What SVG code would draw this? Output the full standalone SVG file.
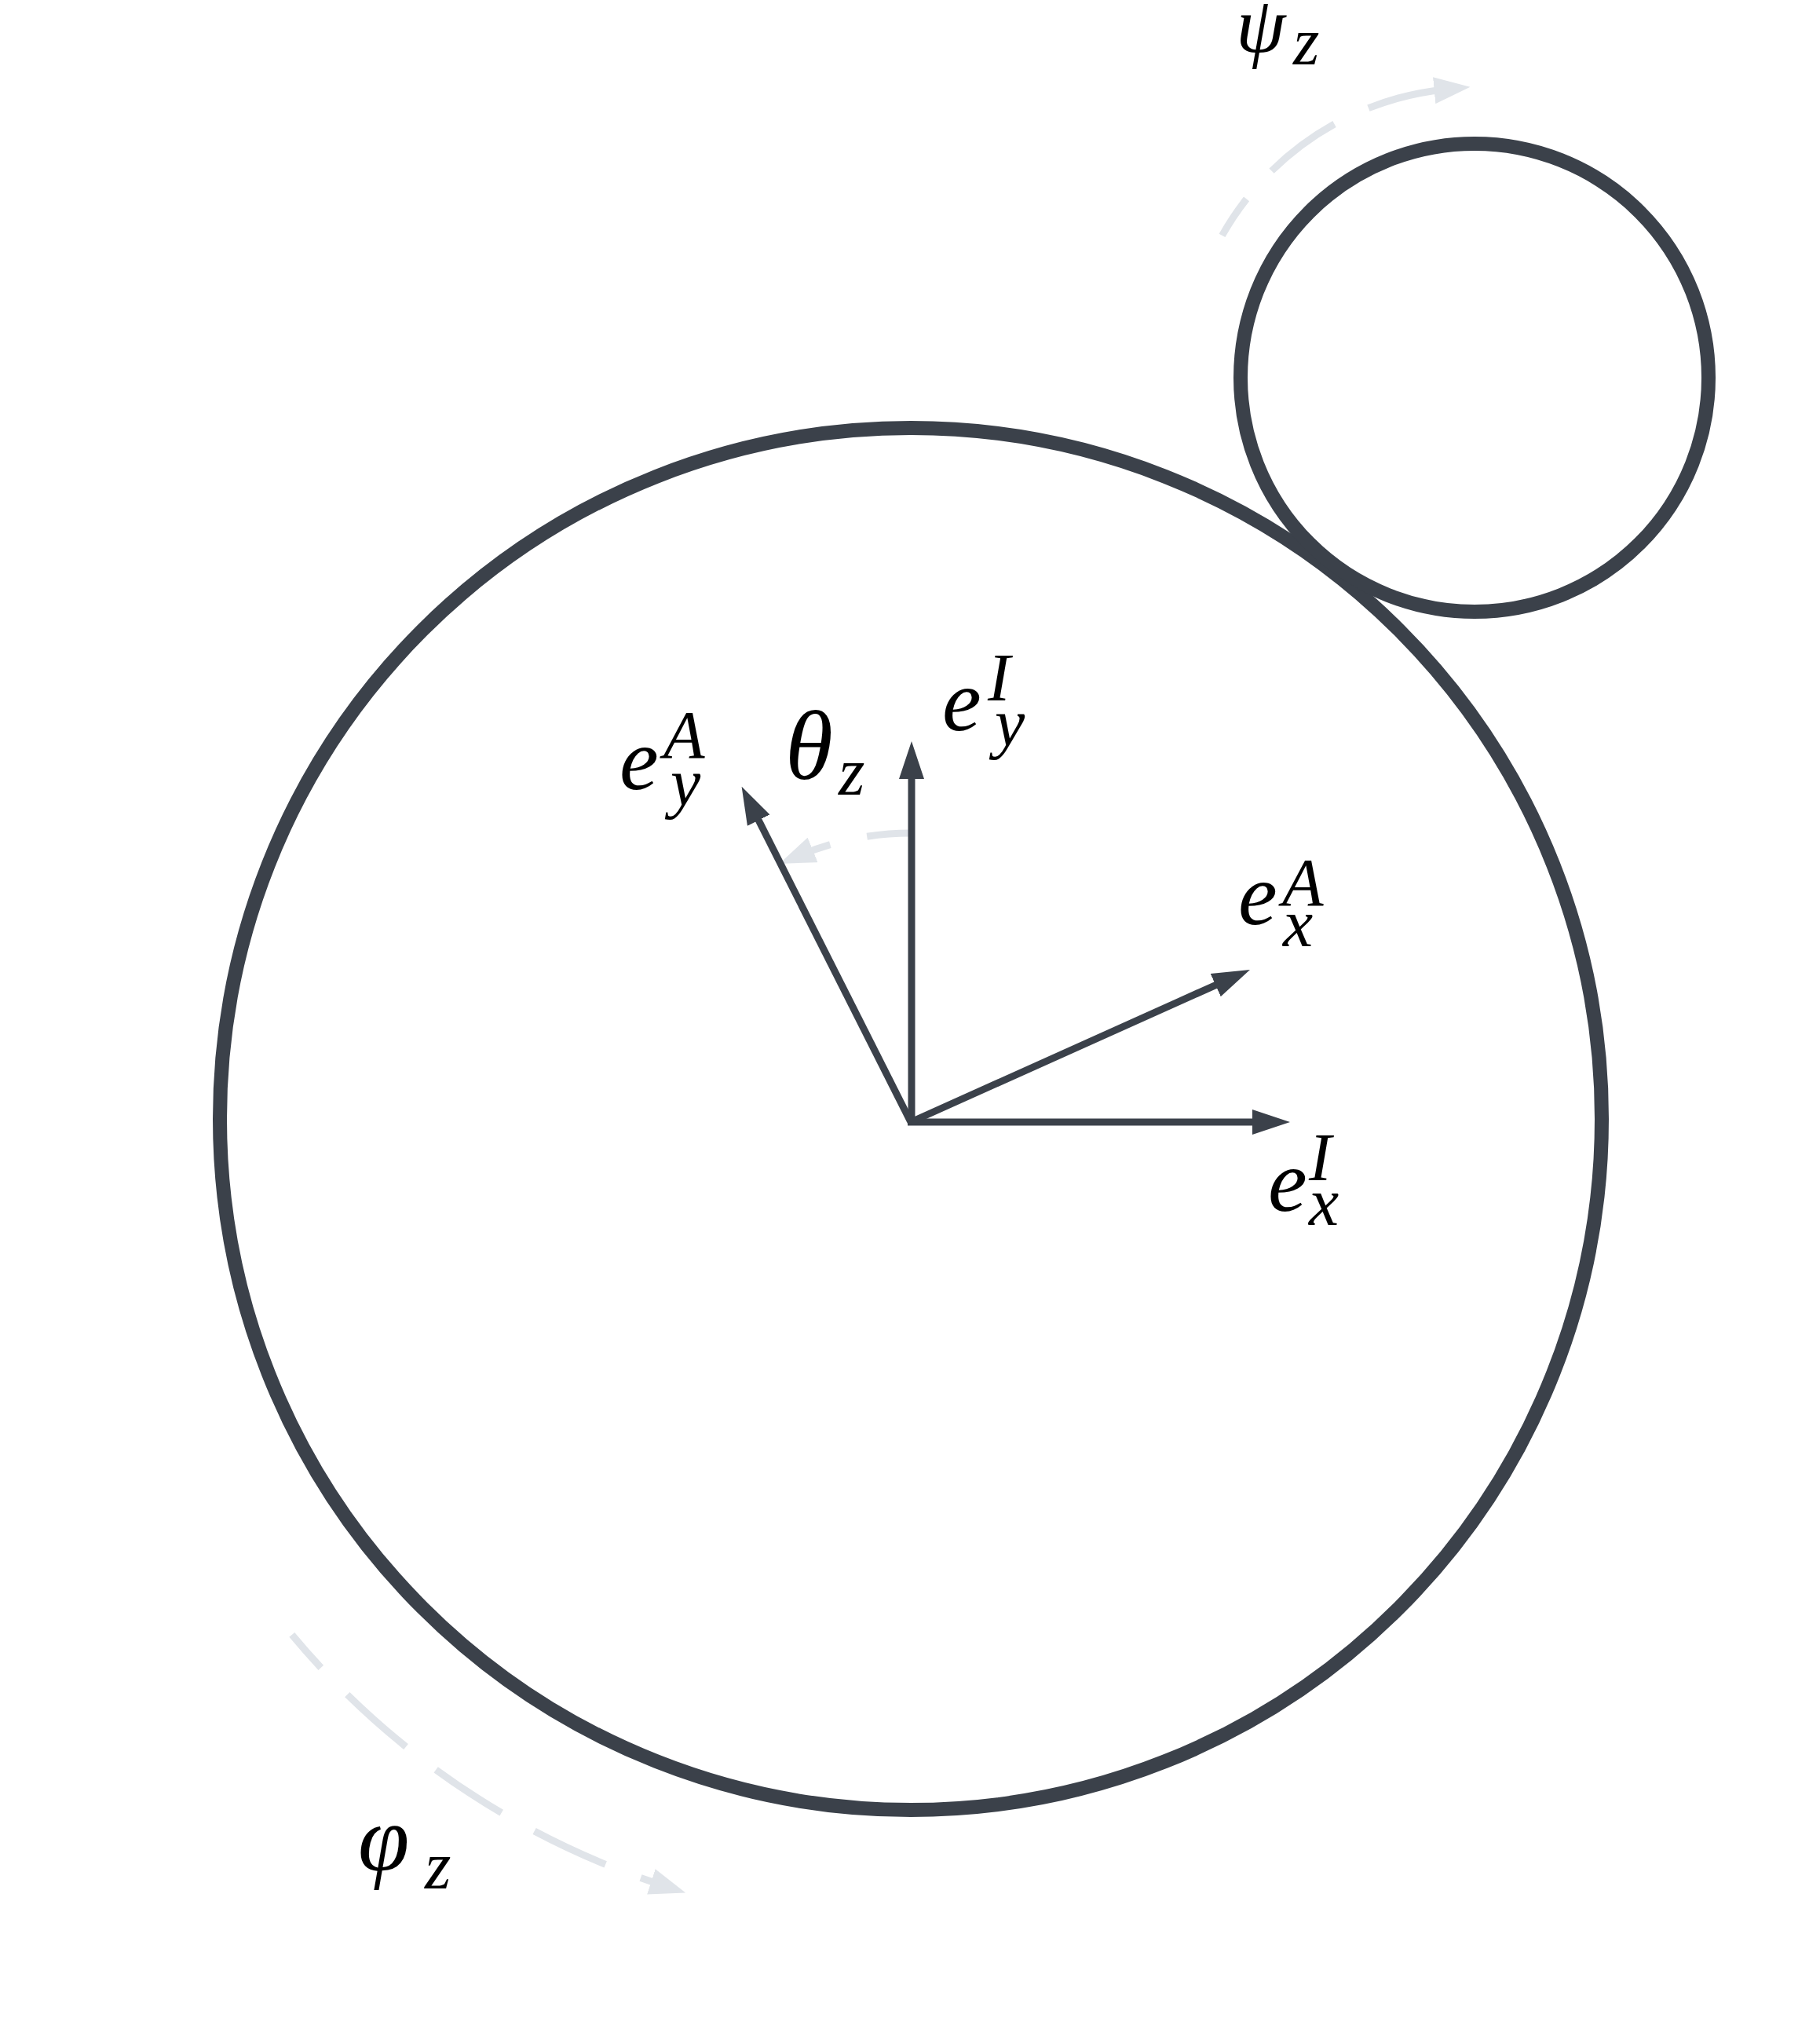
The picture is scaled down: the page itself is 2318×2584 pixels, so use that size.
<svg xmlns="http://www.w3.org/2000/svg" width="2318" height="2584" viewBox="0 0 2318 2584">
<style>
.ring{fill:none;stroke:#3b414a;stroke-width:18}
.vec{fill:none;stroke:#3b414a;stroke-width:9}
.rot{fill:none;stroke:#e0e4e9;stroke-width:9;stroke-dasharray:100 48;stroke-dashoffset:44}
.m{font-family:"Liberation Serif","Times New Roman",serif;font-style:italic;fill:#000;font-size:112px}
.s{font-size:86px}
</style>
<defs>
<marker id="ahD" markerUnits="userSpaceOnUse" viewBox="0 0 48 32" refX="8" refY="16" markerWidth="48" markerHeight="32" orient="auto"><path d="M0,0 L48,16 L0,32 z" fill="#3b414a"/></marker>
<marker id="ahL" markerUnits="userSpaceOnUse" viewBox="0 0 46 34" refX="16" refY="17" markerWidth="46" markerHeight="34" orient="auto"><path d="M0,0 L46,17 L0,34 z" fill="#e0e4e9"/></marker>
</defs>
<rect width="2318" height="2584" fill="#fff"/>
<g id="big-wheel"><circle class="ring" cx="1160" cy="1425" r="880"/></g>
<g id="small-wheel"><circle class="ring" cx="1878" cy="481" r="298"/></g>
<g id="connectors">
<path class="rot" d="M1160,1061 A368,368 0 0 0 1020.3,1088.5" marker-end="url(#ahL)"/>
<path class="rot" d="M1556.5,299.9 A369,369 0 0 1 1842.6,113.7" marker-end="url(#ahL)"/>
<path class="rot" d="M371.8,2081.8 A1026,1026 0 0 0 844.6,2401.3" marker-end="url(#ahL)"/>
<line class="vec" x1="1156" y1="1429" x2="1603" y2="1429" marker-end="url(#ahD)"/>
<line class="vec" x1="1161" y1="1433" x2="1161" y2="984" marker-end="url(#ahD)"/>
<line class="vec" x1="1160" y1="1429" x2="1555.5" y2="1251.3" marker-end="url(#ahD)"/>
<line class="vec" x1="1160" y1="1429" x2="962.6" y2="1037.5" marker-end="url(#ahD)"/>
</g>
<g id="label-eyA"><text class="m"><tspan x="789" y="1005">e</tspan><tspan class="s" x="845" y="965">A</tspan><tspan class="s" x="854" y="1025">y</tspan></text></g>
<g id="label-theta"><text class="m"><tspan x="1000" y="992" font-size="124">θ</tspan><tspan class="s" x="1068" y="1012">z</tspan></text></g>
<g id="label-eyI"><text class="m"><tspan x="1200" y="930">e</tspan><tspan class="s" x="1258" y="892">I</tspan><tspan class="s" x="1267" y="949">y</tspan></text></g>
<g id="label-exA"><text class="m"><tspan x="1577" y="1177">e</tspan><tspan class="s" x="1633" y="1153">A</tspan><tspan class="s" x="1634" y="1205">x</tspan></text></g>
<g id="label-exI"><text class="m"><tspan x="1615" y="1542">e</tspan><tspan class="s" x="1667" y="1503">I</tspan><tspan class="s" x="1667" y="1560">x</tspan></text></g>
<g id="label-psi"><text class="m"><tspan x="1574" y="66" font-size="102">ψ</tspan><tspan class="s" x="1647" y="82">z</tspan></text></g>
<g id="label-phi"><text class="m"><tspan x="456" y="2382" font-size="118">φ</tspan><tspan class="s" x="541" y="2405">z</tspan></text></g>
</svg>
